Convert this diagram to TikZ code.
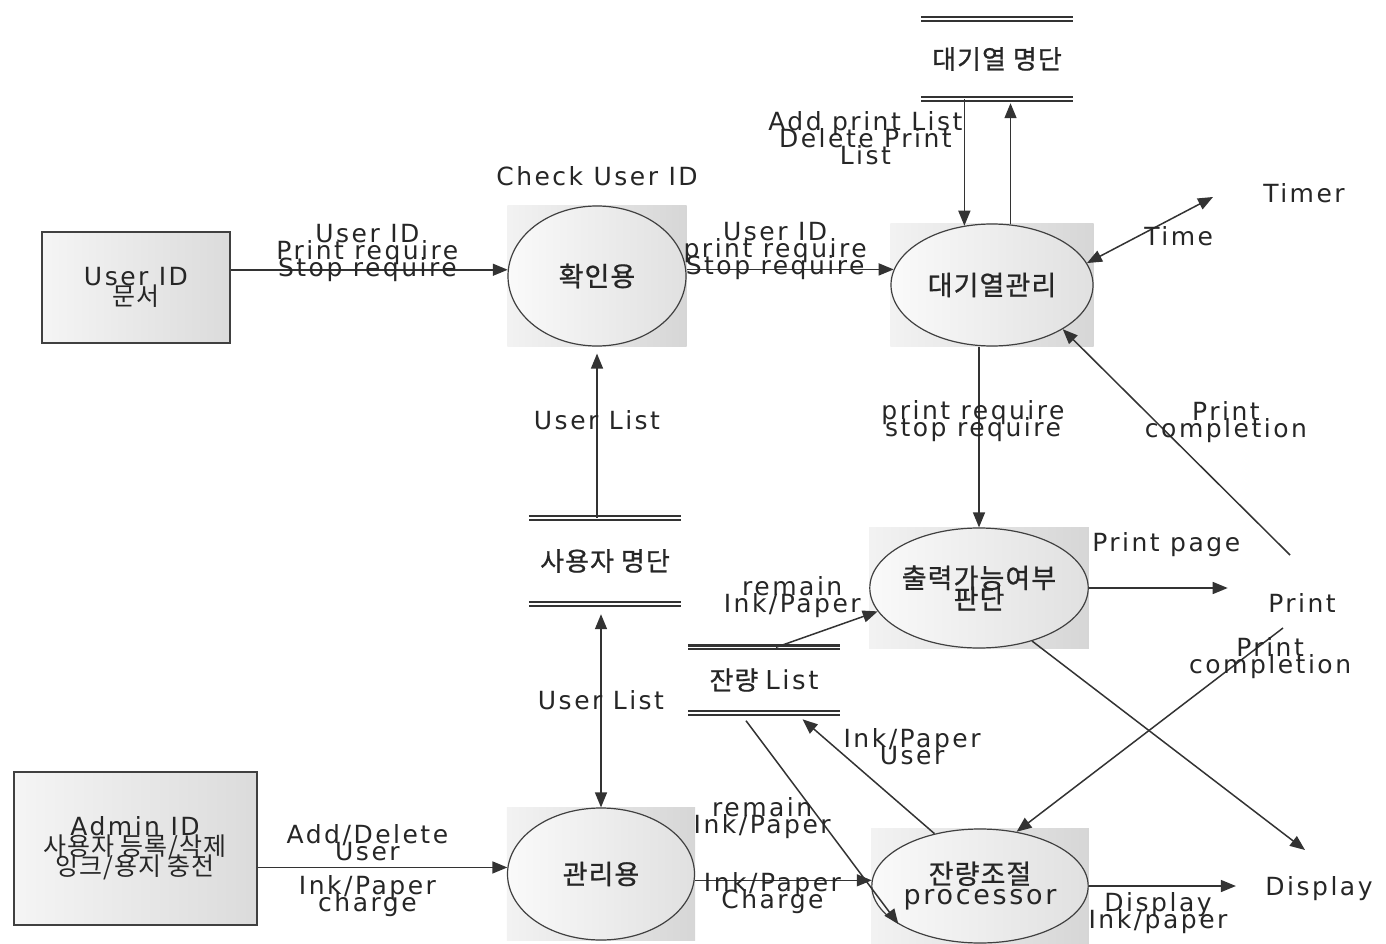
\documentclass[tikz,border=0pt]{standalone}
\usepackage{fontspec}
\setmainfont{DejaVu Sans}[LetterSpace=10]
\newfontfamily\kr{Noto Sans CJK KR}[LetterSpace=4]
\newfontfamily\krb{Noto Sans CJK KR}[LetterSpace=4,FakeBold=0.8]
\usetikzlibrary{shapes.geometric,positioning,arrows.meta,backgrounds}
\lineskiplimit=-100pt

\begin{document}
\begin{tikzpicture}[x=1pt,y=-1pt,
  font=\fontsize{25}{17}\selectfont,
  every node/.style={text=black!85},
  proc/.style={ellipse, draw=black!75, line width=1.2pt, left color=gray!4, right color=gray!24,
    inner sep=0pt, align=center, font=\krb\fontsize{27}{21}\selectfont},
  ext/.style={rectangle, draw=black!75, line width=2pt, left color=gray!8, right color=gray!28,
    align=center, font=\fontsize{25}{20}\selectfont},
  store/.style={minimum width=152pt, inner sep=0pt, font=\krb\fontsize{26}{17}\selectfont},
  storeline/.style={draw=black!80, line width=2.2pt, double, double distance=1.6pt},
  flow/.style={-{Triangle[length=15pt,width=12pt]}, line width=1.5pt, draw=black!80},
  bflow/.style={{Triangle[length=15pt,width=12pt]}-{Triangle[length=15pt,width=12pt]}, line width=1.5pt, draw=black!80},
  lbl/.style={align=center, inner sep=0pt}]
\useasboundingbox (0,0) rectangle (1386,944);

% processes
\node[proc, minimum width=178pt, minimum height=140pt] (chk) at (597,276) {확인용};
\node[proc, minimum width=202pt, minimum height=122pt] (que) at (992,285) {대기열관리};
\node[proc, minimum width=202pt, minimum height=120pt] (chkp) at (979,588) {출력가능여부\\판단};
\node[proc, minimum width=187pt, minimum height=132pt] (mgr) at (601,874) {관리용};
\node[proc, minimum width=200pt, minimum height=114pt] (adj) at (980,886) {잔량조절\\{\rmfamily processor}};
\node[above=16pt of chk] (chkid) {Check User ID};

\begin{scope}[on background layer]
\foreach \p in {chk,que,chkp,mgr,adj}
  \shade[left color=gray!10, right color=gray!32] (\p.west |- \p.north) rectangle (\p.east |- \p.south);
\end{scope}

% external entities
\node[ext, minimum width=188pt, minimum height=111pt] (uid) at (136,287) {User ID\\{\kr 문서}};
\node[ext, minimum width=243pt, minimum height=153pt] (adm) at (135,848)
  {Admin ID\\{\kr 사용자 등록/삭제}\\{\kr 잉크/용지 충전}};
\node (timer) at (1304,193) {Timer};
\node (print) at (1302,603) {Print};
\node (disp) at (1319,889) {Display};

% data stores
\node[store, minimum height=80pt] (qlist) at (997,59) {대기열 명단};
\node[store, minimum height=86pt] (ulist) at (605,561) {사용자 명단};
\node[store, minimum height=65pt] (rlist) at (764,680) {잔량 {\rmfamily List}};
\foreach \s in {qlist,ulist,rlist}
  \draw[storeline] (\s.north west) -- (\s.north east) (\s.south west) -- (\s.south east);

\coordinate (timerin) at (1213,197);
\coordinate (prtop) at (1290,555);
\coordinate (prbot) at (1283,628);
\coordinate (dispin) at (1305,850);

% flows
\draw[flow] (uid.east |- chk.176) -- node[lbl, xshift=-2pt, yshift=17pt] {User ID\\Print require\\Stop require} (chk.176);
\draw[flow] (chk.east |- que.171) -- node[lbl, xshift=-15pt, yshift=18pt] {User ID\\print require\\Stop require} (que.171);
\draw[flow] (qlist.south -| que.115) -- node[lbl, pos=.31, xshift=-99pt] {Add print List\\Delete Print\\List} (que.115);
\draw[flow, shorten >=4pt] (que.73) -- (que.73 |- qlist.south);
\draw[bflow] (que.13) -- node[lbl, pos=.45, anchor=west, yshift=-3pt] {Time} (timerin);
\draw[flow] (que.south -| chkp.north) -- node[lbl, xshift=-6pt, yshift=16pt] {print require\\stop require} (chkp.north);
\draw[flow] (prtop) -- node[lbl, pos=.59, xshift=70pt] {Print\\completion} (que.-32);
\draw[flow, shorten >=7pt] (ulist.north -| chk.south) -- node[lbl, pos=.57] {User List} (chk.south);
\draw[bflow, shorten <=10pt] (ulist.south -| mgr.north) -- node[lbl, pos=.47] {User List} (mgr.north);
\draw[flow] (adm.east |- mgr.176) -- node[lbl, above=6pt, xshift=-15pt] {Add/Delete\\User}
  node[lbl, below=7pt, xshift=-15pt] {Ink/Paper\\charge} (mgr.176);
\draw[flow] (mgr.east |- adj.177) -- node[lbl, xshift=-11pt, yshift=-13pt] {Ink/Paper\\Charge} (adj.177);
\draw[flow] ([xshift=12pt]rlist.north) -- node[lbl, pos=.16, yshift=44pt] {remain\\Ink/Paper} (chkp.193);
\draw[flow, shorten <=10pt] ([xshift=-24pt]rlist.south) -- node[lbl, pos=.5, xshift=-57pt] {remain\\Ink/Paper} (adj.205);
\draw[flow, shorten >=10pt] (adj.131) -- node[lbl, pos=.72, xshift=78pt] {Ink/Paper\\User} ([xshift=31pt]rlist.south);
\draw[flow, shorten >=37pt] (chkp.east) -- node[lbl, pos=.44, yshift=43pt] {Print page} (chkp.east -| print.west);
\draw[flow] (chkp.-45) -- (dispin);
\draw[flow] (prbot) -- node[lbl, pos=.146, xshift=26pt] {Print\\completion} (adj.56);
\draw[flow, shorten >=26pt] (adj.east) -- node[lbl, pos=.4, yshift=-27pt] {Display\\Ink/paper} (adj.east -| disp.west);
\end{tikzpicture}
\end{document}
